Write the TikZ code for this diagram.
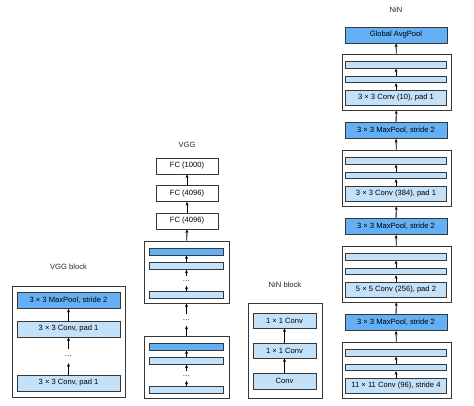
\documentclass[tikz,border=0pt]{standalone}
\usepackage{fontspec}
\setmainfont{Liberation Sans}
\usetikzlibrary{arrows.meta}
\definecolor{pooltone}{RGB}{100,176,245}
\definecolor{convtone}{RGB}{196,225,250}
\definecolor{edgegray}{RGB}{55,55,55}

\tikzset{
  netbox/.style={draw=edgegray, line width=0.7pt, inner sep=0pt, minimum height=16pt, font=\fontsize{7.6}{9}\selectfont},
  poolbox/.style={netbox, fill=pooltone},
  convbox/.style={netbox, fill=convtone},
  fcbox/.style={netbox, fill=white},
  poolbar/.style={netbox, fill=pooltone, minimum height=7pt},
  convbar/.style={netbox, fill=convtone, minimum height=6.5pt},
  blockframe/.style={draw=edgegray, line width=0.9pt, fill=white, inner sep=0pt},
  heading/.style={font=\fontsize{7.6}{9}\selectfont, text=black!85},
  gap/.style={inner sep=0pt, font=\fontsize{7.6}{9}\selectfont},
  flow/.style={-{Stealth[length=3.6pt,width=3pt]}, line width=0.8pt}
}

\begin{document}
\begin{tikzpicture}[x=1pt, y=-1pt]
        \useasboundingbox (0,0) rectangle (474,405);

        % VGG block
        \node[heading] (vbtitle) at (68.5,267) {VGG block};
        \node[blockframe, minimum width=113pt, minimum height=111pt] (vbframe) at (68.5,341.5) {};
        \node[poolbox, minimum width=103pt] (vbpool) at (68.5,300.5) {3 × 3 MaxPool, stride 2};
        \node[convbox, minimum width=103pt] (vbconvb) at (68.5,329) {3 × 3 Conv, pad 1};
        \node[gap, minimum height=14pt] (vbdots) at (68.5,356) {\dots};
        \node[convbox, minimum width=103pt] (vbconva) at (68.5,383) {3 × 3 Conv, pad 1};
        \draw[flow] (vbconvb) -- (vbpool);
        \draw[flow] (vbdots) -- (vbconvb);
        \draw[flow] (vbconva) -- (vbdots);

        % VGG: fully connected layers
        \node[heading] (vggtitle) at (187,145) {VGG};
        \node[fcbox, minimum width=62pt] (fcc) at (187,166) {FC (1000)};
        \node[fcbox, minimum width=62pt] (fcb) at (187,193.5) {FC (4096)};
        \node[fcbox, minimum width=62pt] (fca) at (187,221) {FC (4096)};
        \draw[flow] (fca) -- (fcb);
        \draw[flow] (fcb) -- (fcc);

        % VGG: upper block
        \node[blockframe, minimum width=85pt, minimum height=62pt] (vgupper) at (186.5,272) {};
        \node[poolbar, minimum width=74pt] (vguppool) at (186.5,251.5) {};
        \node[convbar, minimum width=74pt] (vgupconv) at (186.5,266) {};
        \node[gap, minimum height=9pt] (vgupdots) at (186.5,281) {\dots};
        \node[convbar, minimum width=74pt] (vgupbase) at (186.5,295) {};
        \draw[flow] (vgupconv) -- (vguppool);
        \draw[flow] (vgupdots) -- (vgupconv);
        \draw[flow] (vgupbase) -- (vgupdots);
        \draw[flow] (vgupper) -- (fca);

        % VGG: dots between blocks
        \node[gap, minimum height=11pt] (vgdots) at (186.5,320) {\dots};
        \draw[flow] (vgdots) -- (vgupper);

        % VGG: lower block
        \node[blockframe, minimum width=85pt, minimum height=62pt] (vglower) at (186.5,367) {};
        \node[poolbar, minimum width=74pt] (vglowpool) at (186.5,346.5) {};
        \node[convbar, minimum width=74pt] (vglowconv) at (186.5,361) {};
        \node[gap, minimum height=9pt] (vglowdots) at (186.5,376) {\dots};
        \node[convbar, minimum width=74pt] (vglowbase) at (186.5,390) {};
        \draw[flow] (vglowconv) -- (vglowpool);
        \draw[flow] (vglowdots) -- (vglowconv);
        \draw[flow] (vglowbase) -- (vglowdots);
        \draw[flow] (vglower) -- (vgdots);

        % NiN block
        \node[heading] (nbtitle) at (285,285) {NiN block};
        \node[blockframe, minimum width=74pt, minimum height=95pt] (nbframe) at (285,350.5) {};
        \node[convbox, minimum width=63pt, minimum height=15pt] (nbtop) at (284.5,320.5) {1 × 1 Conv};
        \node[convbox, minimum width=63pt, minimum height=15pt] (nbmid) at (284.5,350.5) {1 × 1 Conv};
        \node[convbox, minimum width=63pt] (nbconv) at (284.5,381) {Conv};
        \draw[flow] (nbconv) -- (nbmid);
        \draw[flow] (nbmid) -- (nbtop);

        % NiN: head
        \node[heading] (nintitle) at (396,10) {NiN};
        \node[poolbox, minimum width=102pt] (avgpool) at (396,35) {Global AvgPool};

        % NiN: fourth block
        \node[blockframe, minimum width=109pt, minimum height=56pt] (ninfour) at (396.5,82) {};
        \node[convbar, minimum width=101pt] (fourbarb) at (396,65) {};
        \node[convbar, minimum width=101pt] (fourbara) at (396,79.5) {};
        \node[convbox, minimum width=101pt, minimum height=15pt] (fourconv) at (396,97.5) {3 × 3 Conv (10), pad 1};
        \draw[flow] (fourconv) -- (fourbara);
        \draw[flow] (fourbara) -- (fourbarb);
        \draw[flow] (ninfour) -- (avgpool);

        \node[poolbox, minimum width=102pt] (poolc) at (396,130.5) {3 × 3 MaxPool, stride 2};
        \draw[flow] (poolc) -- (ninfour);

        % NiN: third block
        \node[blockframe, minimum width=109pt, minimum height=56pt] (ninthree) at (396.5,178) {};
        \node[convbar, minimum width=101pt] (threebarb) at (396,161) {};
        \node[convbar, minimum width=101pt] (threebara) at (396,175.5) {};
        \node[convbox, minimum width=101pt, minimum height=15pt] (threeconv) at (396,193.5) {3 × 3 Conv (384), pad 1};
        \draw[flow] (threeconv) -- (threebara);
        \draw[flow] (threebara) -- (threebarb);
        \draw[flow] (ninthree) -- (poolc);

        \node[poolbox, minimum width=102pt] (poolb) at (396,226.5) {3 × 3 MaxPool, stride 2};
        \draw[flow] (poolb) -- (ninthree);

        % NiN: second block
        \node[blockframe, minimum width=109pt, minimum height=56pt] (nintwo) at (396.5,274) {};
        \node[convbar, minimum width=101pt] (twobarb) at (396,257) {};
        \node[convbar, minimum width=101pt] (twobara) at (396,271.5) {};
        \node[convbox, minimum width=101pt, minimum height=15pt] (twoconv) at (396,289.5) {5 × 5 Conv (256), pad 2};
        \draw[flow] (twoconv) -- (twobara);
        \draw[flow] (twobara) -- (twobarb);
        \draw[flow] (nintwo) -- (poolb);

        \node[poolbox, minimum width=102pt] (poola) at (396,322.5) {3 × 3 MaxPool, stride 2};
        \draw[flow] (poola) -- (nintwo);

        % NiN: first block
        \node[blockframe, minimum width=109pt, minimum height=56pt] (ninone) at (396.5,370) {};
        \node[convbar, minimum width=101pt] (onebarb) at (396,353) {};
        \node[convbar, minimum width=101pt] (onebara) at (396,367.5) {};
        \node[convbox, minimum width=101pt, minimum height=15pt] (oneconv) at (396,385.5) {11 × 11 Conv (96), stride 4};
        \draw[flow] (oneconv) -- (onebara);
        \draw[flow] (onebara) -- (onebarb);
        \draw[flow] (ninone) -- (poola);
    \end{tikzpicture}
\end{document}
